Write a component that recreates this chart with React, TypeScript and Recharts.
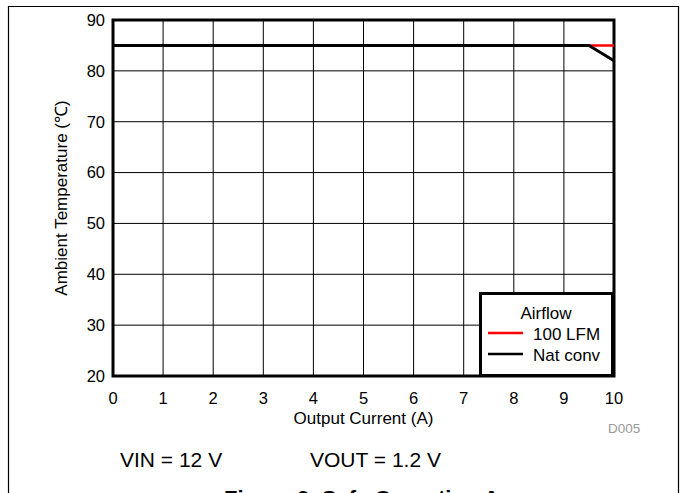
import React from 'react';
import { LineChart, Line, XAxis, YAxis, CartesianGrid, ReferenceArea, Legend, Label } from 'recharts';

const currents = [0, 9.5, 10];
const lfm100 = [85, 85, 85];
const natConv = [85, 85, 82];
const xTicks = [0, 1, 2, 3, 4, 5, 6, 7, 8, 9, 10];
const yTicks = [20, 30, 40, 50, 60, 70, 80, 90];
const seriesNames = ['100 LFM', 'Nat conv'];
const seriesColors = ['#ff0000', '#000000'];
const legendTitle = 'Airflow';
const xTitle = 'Output Current (A)';
const yTitle = 'Ambient Temperature (℃)';
const noteVin = 'VIN = 12 V';
const noteVout = 'VOUT = 1.2 V';
const code = 'D005';
const figTitle = 'Figure 9. Safe Operating Area';

const data = currents.map((c, i) => ({ current: c, lfm: lfm100[i], nat: natConv[i] }));

const FONT = '"Liberation Sans", Arial, sans-serif';

const LegendBox = () => (
  <div
    style={{
      width: 135,
      height: 85,
      boxSizing: 'border-box',
      border: '3px solid #000',
      background: '#fff',
      position: 'relative',
    }}
  >
    <svg width={129} height={79} style={{ position: 'absolute', left: 0, top: 0, fontFamily: FONT }}>
      <text x={64} y={24} textAnchor="middle" fontSize={17} fill="#000">{legendTitle}</text>
      <line x1={6} x2={41} y1={38} y2={38} stroke={seriesColors[0]} strokeWidth={2.5} />
      <text x={51} y={45} fontSize={17} fill="#000">{seriesNames[0]}</text>
      <line x1={6} x2={41} y1={59} y2={59} stroke={seriesColors[1]} strokeWidth={2.5} />
      <text x={51} y={66} fontSize={17} fill="#000">{seriesNames[1]}</text>
    </svg>
  </div>
);

export default function App() {
  return (
    <div
      style={{
        position: 'absolute',
        left: 0,
        top: 0,
        width: 683,
        height: 493,
        overflow: 'hidden',
        background: '#fff',
        fontFamily: FONT,
      }}
    >
      <svg width={683} height={493} style={{ position: 'absolute', left: 0, top: 0 }}>
        <line x1={8} x2={679} y1={6.5} y2={6.5} stroke="#000" strokeWidth={1.2} />
        <line x1={8.5} x2={8.5} y1={6} y2={493} stroke="#000" strokeWidth={1.2} />
        <line x1={678.5} x2={678.5} y1={6} y2={493} stroke="#000" strokeWidth={1.2} />
        <text x={120} y={467} fontSize={21} fill="#000" fontFamily={FONT}>{noteVin}</text>
        <text x={310} y={467} fontSize={21} fill="#000" fontFamily={FONT}>{noteVout}</text>
        <text x={608} y={433} fontSize={13.5} fill="#999" fontFamily={FONT}>{code}</text>
        <text x={224} y={506} fontSize={22} fontWeight="bold" fill="#000" fontFamily={FONT}>{figTitle}</text>
      </svg>
      <div style={{ position: 'absolute', left: 0, top: 0 }}>
        <LineChart
          width={683}
          height={493}
          data={data}
          margin={{ top: 20, right: 69, left: 53, bottom: 87 }}
          style={{ fontFamily: FONT }}
        >
          <CartesianGrid stroke="#000" strokeWidth={1} />
          <XAxis
            dataKey="current"
            type="number"
            domain={[0, 10]}
            ticks={xTicks}
            height={30}
            axisLine={false}
            tickLine={false}
            tickMargin={10}
            tick={{ fontSize: 16.5, fill: '#000', fontFamily: FONT }}
            interval={0}
          >
            <Label
              content={(p: any) => {
                const vb = p.viewBox || { x: 113, width: 501 };
                return (
                  <text x={vb.x + vb.width / 2} y={424} textAnchor="middle" fontSize={17} fill="#000" fontFamily={FONT}>
                    {xTitle}
                  </text>
                );
              }}
            />
          </XAxis>
          <YAxis
            type="number"
            domain={[20, 90]}
            ticks={yTicks}
            width={60}
            axisLine={false}
            tickLine={false}
            tick={{ fontSize: 16.5, fill: '#000', fontFamily: FONT }}
            interval={0}
          >
            <Label
              content={(p: any) => {
                const vb = p.viewBox || { x: 53, y: 20, height: 356 };
                const cx = vb.x + 8;
                const cy = vb.y + vb.height / 2;
                return (
                  <text
                    x={cx}
                    y={cy}
                    transform={`rotate(-90 ${cx} ${cy})`}
                    textAnchor="middle"
                    dominantBaseline="central"
                    fontSize={17}
                    fill="#000"
                    fontFamily={FONT}
                  >
                    {yTitle}
                  </text>
                );
              }}
            />
          </YAxis>
          <ReferenceArea x1={0} x2={10} y1={20} y2={90} fill="none" fillOpacity={0} stroke="#000" strokeWidth={3} ifOverflow="visible" />
          <Line
            dataKey="lfm"
            name={seriesNames[0]}
            stroke={seriesColors[0]}
            strokeWidth={2.5}
            dot={false}
            activeDot={false}
            isAnimationActive={false}
          />
          <Line
            dataKey="nat"
            name={seriesNames[1]}
            stroke={seriesColors[1]}
            strokeWidth={3}
            dot={false}
            activeDot={false}
            isAnimationActive={false}
          />
          <Legend
            layout="vertical"
            align="center"
            verticalAlign="middle"
            content={() => <LegendBox />}
            wrapperStyle={{ position: 'absolute', left: 479, top: 292, width: 135, height: 85, margin: 0, padding: 0 }}
          />
        </LineChart>
      </div>
    </div>
  );
}
